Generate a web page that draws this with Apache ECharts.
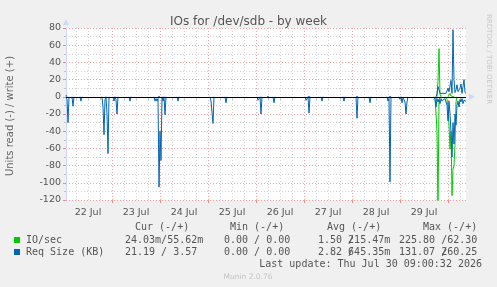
<!DOCTYPE html>
<html>
<head>
<meta charset="utf-8">
<title>IOs for /dev/sdb - by week</title>
<script src="https://cdn.jsdelivr.net/npm/echarts@6/dist/echarts.min.js"></script>
<style>
  html, body { margin: 0; padding: 0; background: #f0f0f0; }
  #chart { width: 497px; height: 287px; }
</style>
</head>
<body>
<div id="chart"></div>
<script>
// 30 minute samples: slot 0 = 22 Jul 01:00, slot 400 = 30 Jul 09:00
const slotCount = 401
const dayLabels = ['22 Jul', '23 Jul', '24 Jul', '25 Jul', '26 Jul', '27 Jul', '28 Jul', '29 Jul']
const noonSlot = 22      // 22 Jul 12:00
const midnightSlot = 46  // 23 Jul 00:00
const quarterSlot = 10   // 22 Jul 06:00

// [slot, value] for the non zero samples; read values are drawn below zero
const ioRead = [[370,-2],[371,-40],[372,-130],[373,-4],[381,-3],[382,-12],
  [383,-33],[384,-61],[385,-40],[386,-115],[387,-84],[388,-80],[389,-55],[390,-6]]
const ioWrite = [[372,18],[373,56],[374,3],[383,2],[384,4],[385,1],[386,3],[387,1]]
const sizeRead = [
  [1,-3],[2,-30],[7,-11],[15,-5],
  [37,-12],[38,-44],[39,-3],[41,-20],[42,-66],
  [48,-5],[50,-3],[51,-20],[64,-5],
  [89,-5],[90,-2],[91,-5],[92,-2],[93,-105],[94,-40],[95,-74],[97,-5],[99,-21],
  [112,-5],[145,-5],[146,-5],[147,-31],[160,-7],
  [192,-4],[193,-4],[195,-20],[202,-2],[208,-7],
  [240,-4],[241,-4],[243,-19],[256,-5],[278,-5],
  [291,-25],[304,-7],[322,-5],[323,-2],[324,-99],
  [334,-3],[336,-7],[337,-1],[339,-6],[340,-20],[341,-6],
  [369,-3],[370,-12],[371,-2],[372,-6],[373,-3],[374,-8],[375,-2],[376,-5],[377,-3],[378,-7],
  [379,-2],[380,-4],[381,-10],[382,-28],[383,-5],[384,-20],[385,-40],[386,-70],[387,-30],[388,-55],
  [389,-20],[390,-33],[391,-10],[392,-5],[393,-12],[394,-3],[395,-6],[396,-2],[397,-8],[398,-4],[399,-3],[400,-5]
]
const sizeWrite = [[0,2],[93,2],[243,2],[291,2],[324,2],
  [371,3],[372,12],[373,8],[374,4],[375,4],[376,4],[377,4],[378,4],[379,4],[380,4],[381,5],[382,10],[383,6],
  [384,8],[385,19],[386,4],[387,78],[388,20],[389,5],[390,8],[391,14],[392,6],[393,7],[394,10],
  [395,15],[396,4],[397,12],[398,20],[399,5],[400,4]]

// legend table
const legendHeader = ['Cur (-/+)', 'Min (-/+)', 'Avg (-/+)', 'Max (-/+)']
const seriesNames = ['IO/sec', 'Req Size (KB)']
const ioStats = ['24.03m/55.62m', '0.00 / 0.00', '1.50 /215.47m', '225.80 /62.30']
const sizeStats = ['21.19 / 3.57', '0.00 / 0.00', '2.82 /645.35m', '131.07 /260.25']
const ioOverlap = [false, false, true, false]
const sizeOverlap = [false, false, true, true]

const GREEN = '#00cc00'
const BLUE = '#0066b3'
const MONO = 'DejaVu Sans Mono'
const SANS = 'DejaVu Sans'
const CW = 6.02 // mono char width at 10px

let slots = []
for (let i = 0; i < slotCount; i++) slots.push(String(i))

// samples next to a non zero one are 0, long flat zero runs are left out
// so the black zero line stays visible
function fillSlots (points) {
	let out = new Array(slotCount).fill(null)
	points.forEach(function (p) { out[p[0]] = p[1] })
	points.forEach(function (p) {
		if (p[0] > 0 && out[p[0] - 1] === null) out[p[0] - 1] = 0
		if (p[0] < slotCount - 1 && out[p[0] + 1] === null) out[p[0] + 1] = 0
	})
	return out
}

function isQuarter (i) { return (i - quarterSlot) % 12 === 0 && (i - midnightSlot) % 48 !== 0 }
function isMidnight (i) { return (i - midnightSlot) % 48 === 0 }
function isNoon (i) { return (i - noonSlot) % 48 === 0 }

const minorLine = { show: true, lineStyle: { color: '#d4d4d4', type: [1, 2], width: 1 } }
const majorLine = { show: true, lineStyle: { color: '#f2a2a2', type: [1, 2], width: 1 } }

function monoText (text, x, y, color) {
	return { type: 'text', x: x, y: y, style: { text: text, fill: color || '#555', font: '10px ' + MONO, textVerticalAlign: 'middle' } }
}

// rrdtool overprints the '/' on the next digit when the numbers are too long
function statText (str, x, y, overlap) {
	if (!overlap) return [monoText(str, x, y)]
	let k = str.indexOf('/')
	return [monoText(str.slice(0, k) + str.slice(k + 1), x, y), monoText('/', x + k * CW, y)]
}

let graphics = [
	{ type: 'text', x: 10, y: 116, rotation: Math.PI / 2,
	  style: { text: 'Units read (-) / write (+)', fill: '#666', font: '10px ' + SANS, textAlign: 'center', textVerticalAlign: 'middle' } },
	{ type: 'text', x: 489, y: 59, rotation: -Math.PI / 2,
	  style: { text: 'RRDTOOL / TOBI OETIKER', fill: '#c8c8c8', font: '7px ' + SANS, textAlign: 'center', textVerticalAlign: 'middle' } },
	{ type: 'rect', shape: { x: 14, y: 237, width: 6, height: 6 }, style: { fill: GREEN } },
	{ type: 'rect', shape: { x: 14, y: 249, width: 6, height: 6 }, style: { fill: BLUE } },
	monoText(seriesNames[0], 26, 240),
	monoText(seriesNames[1], 26, 252),
	{ type: 'text', x: 482, y: 264, style: { text: 'Last update: Thu Jul 30 09:00:32 2026', fill: '#555', font: '10px ' + MONO, textAlign: 'right', textVerticalAlign: 'middle' } },
	{ type: 'text', x: 248, y: 277, style: { text: 'Munin 2.0.76', fill: '#c4c4c4', font: '7.5px ' + SANS, textAlign: 'center', textVerticalAlign: 'middle' } }
]
const headerX = [135, 230, 327, 423]
const statX = [125, 224, 318, 399]
for (let c = 0; c < 4; c++) {
	graphics.push(monoText(legendHeader[c], headerX[c], 227))
	graphics = graphics.concat(statText(ioStats[c], statX[c], 240, ioOverlap[c]))
	graphics = graphics.concat(statText(sizeStats[c], statX[c], 252, sizeOverlap[c]))
}

function lineSeries (name, points, color) {
	return { name: name, type: 'line', data: fillSlots(points), showSymbol: false, symbol: 'none',
	         connectNulls: false, lineStyle: { color: color, width: 1 }, itemStyle: { color: color }, animation: false }
}

let series = [
	// black zero line, under the data
	{ name: 'zero', type: 'line', data: [], animation: false,
	  markLine: { silent: true, symbol: ['none', 'none'], label: { show: false }, animation: false,
	              lineStyle: { color: '#000', width: 1, type: 'solid' }, data: [{ yAxis: 0 }] } },
	lineSeries('IO/sec read', ioRead, GREEN),
	lineSeries('IO/sec write', ioWrite, GREEN),
	lineSeries('Req Size read', sizeRead, BLUE),
	lineSeries('Req Size write', sizeWrite, BLUE)
]

const axisArrow = { show: true, lineStyle: { color: '#cfd6f8', width: 1 },
	symbol: ['none', 'triangle'], symbolSize: [6, 6], symbolOffset: [0, 6] }

let myChart = echarts.init(document.getElementById('chart'), null, { renderer: 'canvas' })
myChart.setOption({
	backgroundColor: '#f0f0f0',
	animation: false,
	title: { text: 'IOs for /dev/sdb - by week', left: 'center', top: 11,
	         textStyle: { color: '#555', fontSize: 12, fontWeight: 'normal', fontFamily: SANS } },
	grid: { left: 66, right: 31, top: 28, bottom: 87, show: true, backgroundColor: '#fff', borderWidth: 0 },
	xAxis: [
		{ type: 'category', data: slots, boundaryGap: false, position: 'bottom',
		  axisLine: axisArrow,
		  axisTick: { show: true, interval: isQuarter, length: 3, lineStyle: { color: '#c0c0c0' } },
		  axisLabel: { show: false },
		  splitLine: Object.assign({ interval: isQuarter }, minorLine) },
		{ type: 'category', data: slots, boundaryGap: false, position: 'bottom',
		  axisLine: { show: false },
		  axisTick: { show: true, interval: isMidnight, length: 3, lineStyle: { color: '#f08a8a' } },
		  axisLabel: { show: true, interval: isNoon, margin: 8, color: '#555', fontSize: 9.5, fontFamily: SANS,
		               formatter: function (v, i) { return dayLabels[(i - noonSlot) / 48] } },
		  splitLine: Object.assign({ interval: isMidnight }, majorLine) }
	],
	yAxis: { type: 'value', min: -120, max: 80, interval: 20,
	         axisLine: axisArrow,
	         axisTick: { show: true, length: 3, lineStyle: { color: '#f08a8a' } },
	         minorTick: { show: true, splitNumber: 2, length: 2, lineStyle: { color: '#c0c0c0' } },
	         axisLabel: { color: '#555', fontSize: 9.5, fontFamily: SANS, margin: 5 },
	         splitLine: majorLine,
	         minorSplitLine: minorLine },
	series: series,
	graphic: graphics
})
</script>
</body>
</html>
